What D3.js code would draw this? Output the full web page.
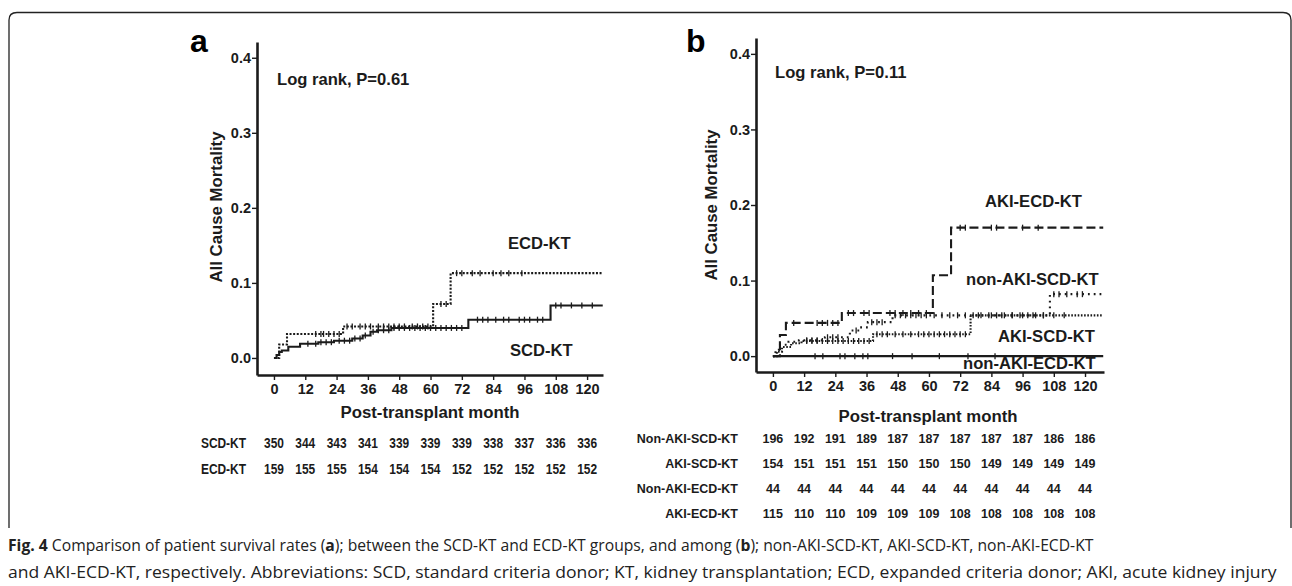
<!DOCTYPE html>
<html>
<head>
<meta charset="utf-8">
<script src="https://cdn.jsdelivr.net/npm/d3@7"></script>
<style>
  html, body { margin: 0; padding: 0; background: #fff; }
  svg { display: block; }
</style>
</head>
<body>
<div id="chart"></div>
<script>
// ---- data ----
const monthTicks = [0, 12, 24, 36, 48, 60, 72, 84, 96, 108, 120];
const mortalityTicks = [0, 0.1, 0.2, 0.3, 0.4];

// panel a : cumulative mortality steps [month, value]
const scdKT = [[0, 0], [1, 0.004], [2, 0.008], [3, 0.01], [5.5, 0.015], [10, 0.019], [17, 0.021],
  [23, 0.023], [30, 0.026], [34, 0.03], [37, 0.035], [39.5, 0.037], [45, 0.04], [74.5, 0.051], [106, 0.07], [126, 0.07]];
const ecdKT = [[0, 0], [2, 0.018], [5, 0.032], [26.5, 0.042], [61, 0.072], [67.7, 0.113], [126, 0.113]];
const scdKTCensor = [13, 16, 18, 20, 22, 25, 27, 29, 31, 33, 35, 38, 40, 42, 44, 46, 48, 50, 52, 54, 56, 58, 60,
  62, 64, 66, 68, 70, 72, 78, 80, 82, 85, 88, 90, 94, 96, 98, 101, 103, 108, 110, 114, 118, 122];
const ecdKTCensor = [16, 18, 19, 21, 23, 25, 28, 30, 33, 35, 37, 40, 42, 44, 46, 48, 50, 53, 55, 57, 59,
  64, 66, 70, 72, 76, 79, 84, 87, 90, 95];

// panel b
const nonAkiScdKT = [[0, 0], [1, 0.008], [2.3, 0.015], [6, 0.019], [10, 0.021], [20, 0.025], [29.6, 0.034],
  [33.5, 0.038], [36.5, 0.045], [46, 0.054], [106.5, 0.082], [127, 0.082]];
const akiScdKT = [[0, 0], [1.5, 0.006], [3.5, 0.012], [7, 0.017], [11, 0.02], [38.5, 0.029], [76, 0.054], [127, 0.054]];
const nonAkiEcdKT = [[0, 0], [127, 0]];
const akiEcdKT = [[0, 0], [2.7, 0.028], [5, 0.044], [26.5, 0.057], [61.5, 0.107], [68.5, 0.17], [127, 0.17]];
const nonAkiScdKTCensor = [13, 15, 17, 21, 23, 25, 32, 38, 40, 42, 47, 49, 51, 53, 55, 57, 59, 62, 65, 68,
  71, 74, 77, 80, 83, 86, 89, 92, 95, 98, 101, 104, 108, 110, 113, 117, 119];
const akiScdKTCensor = [13, 15, 17, 19, 21, 23, 25, 27, 29, 31, 33, 35, 37, 40, 42, 44, 47, 50, 53, 56, 58,
  60, 62, 64, 66, 68, 70, 72, 74, 79, 84, 88, 92, 96, 100, 104, 108, 112];
const nonAkiEcdKTCensor = [16.2, 19.2, 25.8, 27.7, 31.5, 34.6, 36.5, 46, 53.5, 64, 75, 85.4];
const akiEcdKTCensor = [8, 17, 19, 21, 23, 25, 29, 31, 35, 37, 45, 47, 50, 53, 56, 59, 72, 74, 84, 86, 96, 102];

// number at risk
const riskA = ['SCD-KT', 'ECD-KT'];
const riskAValues = [
  [350, 344, 343, 341, 339, 339, 339, 338, 337, 336, 336],
  [159, 155, 155, 154, 154, 154, 152, 152, 152, 152, 152]
];
const riskB = ['Non-AKI-SCD-KT', 'AKI-SCD-KT', 'Non-AKI-ECD-KT', 'AKI-ECD-KT'];
const riskBValues = [
  [196, 192, 191, 189, 187, 187, 187, 187, 187, 186, 186],
  [154, 151, 151, 151, 150, 150, 150, 149, 149, 149, 149],
  [44, 44, 44, 44, 44, 44, 44, 44, 44, 44, 44],
  [115, 110, 110, 109, 109, 109, 108, 108, 108, 108, 108]
];

// ---- layout ----
const W = 1292, H = 586;
const FONT = '"Liberation Sans", Arial, Helvetica, sans-serif';
const INK = '#1b1b1b';

const svg = d3.select('#chart').append('svg')
  .attr('width', W).attr('height', H)
  .attr('viewBox', `0 0 ${W} ${H}`);

// rounded figure frame (open at the bottom, caption sits below)
svg.append('path')
  .attr('d', `M9,528 L9,20 Q9,12.5 17,12.5 L1283,12.5 Q1291,12.5 1291,20 L1291,528`)
  .attr('fill', 'none').attr('stroke', '#222').attr('stroke-width', 1.3);

function stepAt(series, m) {
  let v = series[0][1];
  for (const [mm, vv] of series) { if (mm <= m) v = vv; }
  return v;
}

function drawPanel(cfg) {
  const x = d3.scaleLinear().domain(cfg.xDomain).range([cfg.left, cfg.right]);
  const y = d3.scaleLinear().domain(cfg.yDomain).range([cfg.bottom, cfg.top]);
  const g = svg.append('g');

  // axes
  const yAxis = g.append('g').attr('transform', `translate(${cfg.left},0)`)
    .call(d3.axisLeft(y).tickValues(mortalityTicks).tickFormat(d3.format('.1f')).tickSize(5).tickSizeOuter(0));
  const xAxis = g.append('g').attr('transform', `translate(0,${cfg.bottom})`)
    .call(d3.axisBottom(x).tickValues(monthTicks).tickSize(5).tickSizeOuter(0));
  [yAxis, xAxis].forEach(ax => {
    ax.select('.domain').attr('stroke', INK).attr('stroke-width', 2.6);
    ax.selectAll('.tick line').attr('stroke', INK).attr('stroke-width', 1.4);
    ax.selectAll('.tick text').attr('fill', INK)
      .attr('font-family', FONT).attr('font-weight', 'bold').attr('font-size', 14.5);
  });
  yAxis.selectAll('.tick text').attr('x', -6);
  xAxis.selectAll('.tick text').attr('y', 9);

  // axis titles
  g.append('text')
    .attr('transform', `translate(${cfg.yTitleX},${cfg.yTitleY}) rotate(-90)`)
    .attr('text-anchor', 'middle').attr('font-family', FONT).attr('font-weight', 'bold')
    .attr('font-size', 16.8).attr('fill', INK).text('All Cause Mortality');
  g.append('text')
    .attr('x', cfg.xTitleX).attr('y', cfg.xTitleY)
    .attr('text-anchor', 'middle').attr('font-family', FONT).attr('font-weight', 'bold')
    .attr('font-size', 16.8).attr('fill', INK).text('Post-transplant month');

  // panel letter + log rank
  g.append('text').attr('x', cfg.letterX).attr('y', cfg.letterY)
    .attr('font-family', FONT).attr('font-weight', 'bold').attr('font-size', 32)
    .attr('fill', '#000').text(cfg.letter);
  g.append('text').attr('x', cfg.logX).attr('y', cfg.logY)
    .attr('font-family', FONT).attr('font-weight', 'bold').attr('font-size', 16.6)
    .attr('fill', INK).text(cfg.logText);

  // curves
  const line = d3.line().x(d => x(d[0])).y(d => y(d[1])).curve(d3.curveStepAfter);
  cfg.series.forEach(s => {
    g.append('path').datum(s.data)
      .attr('d', line).attr('fill', 'none')
      .attr('stroke', INK).attr('stroke-width', s.width || 2.1)
      .attr('stroke-dasharray', s.dash || null);
    g.append('g').selectAll('line').data(s.censor).join('line')
      .attr('x1', d => x(d)).attr('x2', d => x(d))
      .attr('y1', d => y(stepAt(s.data, d)) - 3).attr('y2', d => y(stepAt(s.data, d)) + 3)
      .attr('stroke', INK).attr('stroke-width', 1.3);
  });

  // curve labels
  cfg.labels.forEach(l => {
    g.append('text').attr('x', l.x).attr('y', l.y)
      .attr('font-family', FONT).attr('font-weight', 'bold').attr('font-size', 16.6)
      .attr('fill', INK).text(l.text);
  });

  // number at risk table (optionally squeezed horizontally)
  const sx = cfg.risk.squeeze;
  cfg.risk.names.forEach((name, i) => {
    const yy = cfg.risk.y0 + i * cfg.risk.dy;
    g.append('text')
      .attr('transform', `translate(${cfg.risk.labelX},${yy}) scale(${sx},1)`)
      .attr('text-anchor', 'end').attr('font-family', FONT).attr('font-weight', 'bold')
      .attr('font-size', cfg.risk.size).attr('fill', INK).text(name);
    g.append('g').selectAll('text').data(cfg.risk.values[i]).join('text')
      .attr('transform', (d, j) => `translate(${x(monthTicks[j])},${yy}) scale(${sx},1)`)
      .attr('text-anchor', 'middle')
      .attr('font-family', FONT).attr('font-weight', 'bold')
      .attr('font-size', cfg.risk.size).attr('fill', INK).text(d => d);
  });
}

drawPanel({
  left: 257, right: 603, top: 42, bottom: 375,
  xDomain: [-6.5, 126.1], yDomain: [-0.0227, 0.421],
  yTitleX: 222, yTitleY: 207, xTitleX: 430, xTitleY: 418,
  letter: 'a', letterX: 190, letterY: 52,
  logText: 'Log rank, P=0.61', logX: 277, logY: 85,
  series: [
    { data: scdKT, censor: scdKTCensor },
    { data: ecdKT, censor: ecdKTCensor, dash: '2,1.6' }
  ],
  labels: [
    { text: 'ECD-KT', x: 508, y: 249 },
    { text: 'SCD-KT', x: 510, y: 356 }
  ],
  risk: { names: riskA, values: riskAValues, labelX: 246, y0: 448, dy: 26, size: 15.5, squeeze: 0.77 }
});

drawPanel({
  left: 756, right: 1104, top: 38, bottom: 372,
  xDomain: [-6.5, 127.3], yDomain: [-0.021, 0.421],
  yTitleX: 717, yTitleY: 205, xTitleX: 928, xTitleY: 422,
  letter: 'b', letterX: 686, letterY: 52,
  logText: 'Log rank, P=0.11', logX: 775, logY: 78,
  series: [
    { data: nonAkiEcdKT, censor: nonAkiEcdKTCensor },
    { data: akiScdKT, censor: akiScdKTCensor, dash: '1.6,1.6' },
    { data: nonAkiScdKT, censor: nonAkiScdKTCensor, dash: '1.8,4' },
    { data: akiEcdKT, censor: akiEcdKTCensor, dash: '9,4' }
  ],
  labels: [
    { text: 'AKI-ECD-KT', x: 985, y: 207 },
    { text: 'non-AKI-SCD-KT', x: 966, y: 285 },
    { text: 'AKI-SCD-KT', x: 998, y: 342 },
    { text: 'non-AKI-ECD-KT', x: 963, y: 369 }
  ],
  risk: { names: riskB, values: riskBValues, labelX: 738, y0: 443, dy: 25, size: 13, squeeze: 0.96 }
});

// caption (two lines, stretched to the measured widths)
const CAP = '"Open Sans", "Noto Sans", sans-serif';
const captionLines = [
  { y: 551, width: 1086, parts: [['Fig. 4', true], [' Comparison of patient survival rates (', false], ['a', true],
    ['); between the SCD-KT and ECD-KT groups, and among (', false], ['b', true],
    ['); non-AKI-SCD-KT, AKI-SCD-KT, non-AKI-ECD-KT', false]] },
  { y: 578, width: 1270, parts: [['and AKI-ECD-KT, respectively. Abbreviations: SCD, standard criteria donor; KT, kidney transplantation; ECD, expanded criteria donor; AKI, acute kidney injury', false]] }
];
captionLines.forEach(c => {
  const t = svg.append('text').attr('x', 0).attr('y', 0)
    .attr('font-family', CAP).attr('font-size', 16.5).attr('fill', '#222');
  c.parts.forEach(([txt, bold]) => {
    t.append('tspan').attr('font-weight', bold ? 'bold' : 'normal').text(txt);
  });
  const w = t.node().getComputedTextLength();
  t.attr('transform', `translate(8,${c.y}) scale(${c.width / w},1)`);
});
</script>
</body>
</html>
